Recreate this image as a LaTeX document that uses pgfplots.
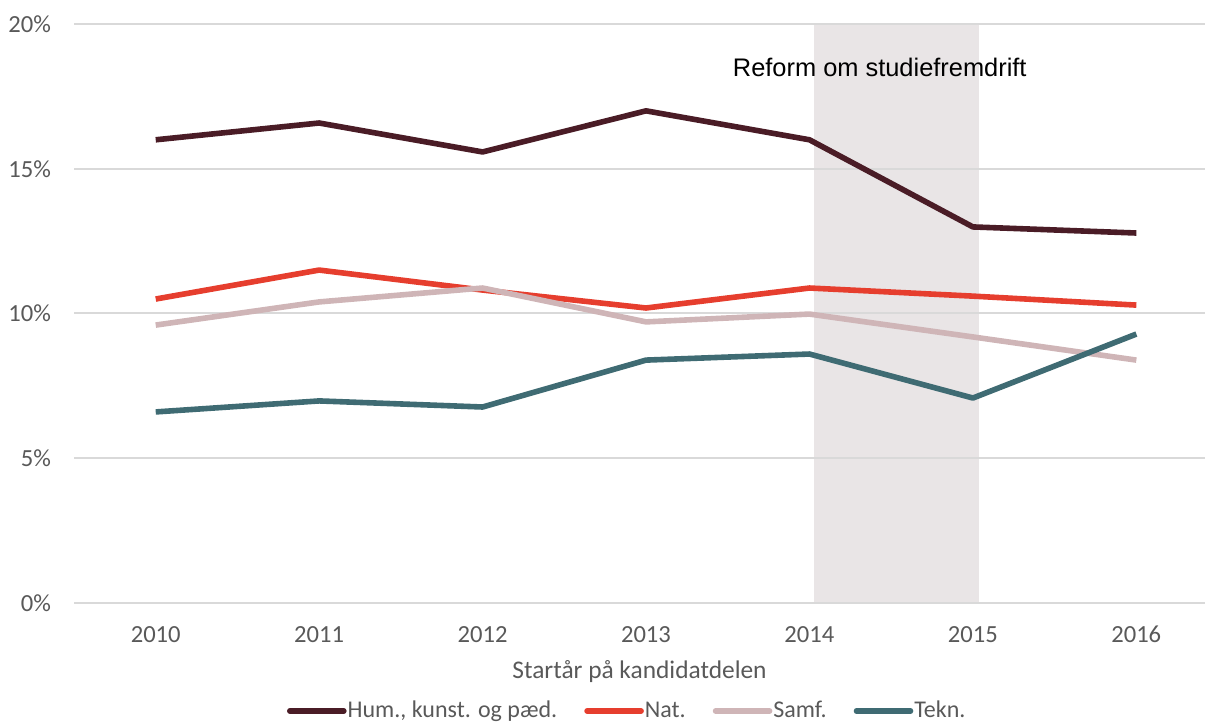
\documentclass[border=0pt]{standalone}
\usepackage{fontspec}
\setmainfont{Carlito}
\newfontfamily\annfont{Liberation Sans}
\usepackage{pgfplots}
\pgfplotsset{compat=1.18}

\definecolor{hum}{HTML}{4A1C26}
\definecolor{nat}{HTML}{E63E2E}
\definecolor{samf}{HTML}{CFB5B7}
\definecolor{tekn}{HTML}{3F6B73}
\definecolor{shadec}{HTML}{E9E5E6}
\definecolor{gridc}{HTML}{D9D9D9}
\definecolor{txt}{HTML}{595959}

\begin{document}
\begin{tikzpicture}
\begin{axis}[
  name=ax, set layers,
  scale only axis, width=565.5pt, height=289.5pt,
  xmin=2009.5, xmax=2016.42, ymin=0, ymax=20,
  xtick={2010,...,2016}, ytick={0,5,10,15,20},
  yticklabel={\pgfmathprintnumber{\tick}\%},
  /pgf/number format/1000 sep={},
  /pgf/number format/assume math mode=true,
  ymajorgrids, grid style={line width=1pt, draw=gridc},
  axis line style={draw=none}, major tick length=0pt,
  tick label style={font=\fontsize{12.3}{14}\selectfont, text=txt},
  yticklabel style={xshift=-8pt},
  xticklabel style={yshift=-8pt},
  xlabel={Startår på kandidatdelen},
  xlabel style={font=\fontsize{12.7}{14}\selectfont, text=txt, yshift=-2pt},
  legend columns=4,
  legend style={draw=none, fill=none, at={(0.49,0)}, anchor=center,
    yshift=-54pt, font=\fontsize{12}{14}\selectfont, text=txt,
    /tikz/every even column/.append style={column sep=11.5pt},
    /tikz/every odd column/.append style={column sep=-1.5pt},
    inner sep=0pt},
  legend image code/.code={\draw[#1, line cap=round] (0pt,0pt) -- (27pt,0pt);},
  every axis plot/.append style={line width=2.8pt, line join=round},
]
\begin{pgfonlayer}{axis background}
\fill[shadec] (axis cs:2014.03,0) rectangle (axis cs:2015.04,20);
\end{pgfonlayer}
\addplot[hum] coordinates {
  (2010,16.0) (2011,16.58) (2012,15.58) (2013,17.0) (2014,16.0) (2015,12.99) (2016,12.78)
};
\addlegendentry{Hum., kunst. og pæd.}
\addplot[nat] coordinates {
  (2010,10.5) (2011,11.5) (2012,10.81) (2013,10.19) (2014,10.88) (2015,10.6) (2016,10.29)
};
\addlegendentry{Nat.}
\addplot[samf] coordinates {
  (2010,9.6) (2011,10.4) (2012,10.88) (2013,9.71) (2014,9.98) (2015,9.19) (2016,8.39)
};
\addlegendentry{Samf.}
\addplot[tekn] coordinates {
  (2010,6.6) (2011,6.98) (2012,6.77) (2013,8.39) (2014,8.6) (2015,7.08) (2016,9.29)
};
\addlegendentry{Tekn.}
\node[font=\annfont\fontsize{12.7}{14}\selectfont, text=black] at (axis cs:2014.43,18.51) {Reform om studiefremdrift};
\end{axis}
\pgfresetboundingbox
\path[use as bounding box] ([xshift=-37pt,yshift=-59.5pt]ax.south west) rectangle ([yshift=12pt]ax.north east);
\end{tikzpicture}
\end{document}
